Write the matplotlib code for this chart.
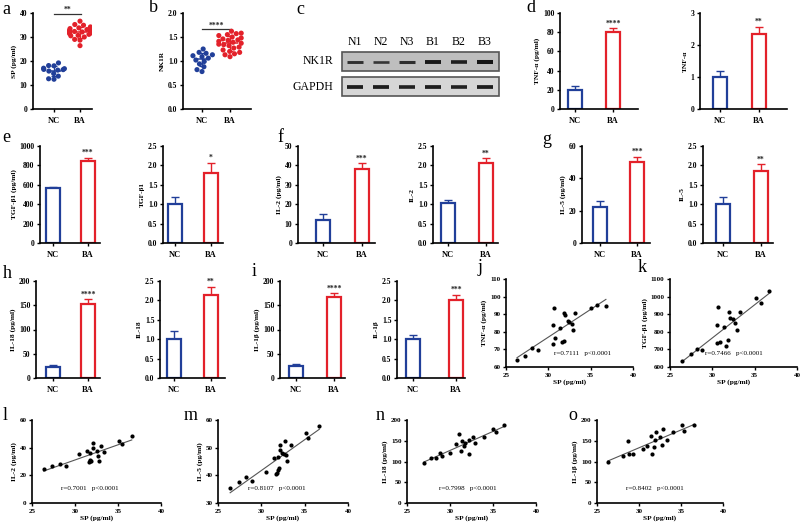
import numpy as np
import pandas as pd
import matplotlib
matplotlib.use("Agg")
import matplotlib.pyplot as plt
import seaborn as sns
from matplotlib.patches import Rectangle

plt.rcParams['font.family'] = ['Liberation Serif', 'DejaVu Serif']
plt.rcParams['font.weight'] = 'bold'
plt.rcParams['axes.labelweight'] = 'bold'

# ---------------- data ----------------
groups = ['NC', 'BA']
sp_nc = [19.2, 18.1, 18.0, 17.0, 16.8, 16.5, 16.4, 16.2, 15.8, 14.8, 13.7, 12.6, 12.4]
sp_ba = [36.6, 35.2, 34.9, 34.2, 33.8, 33.5, 33.1, 32.8, 32.6, 32.5, 32.3, 32.1, 31.9,
         31.8, 31.6, 31.4, 31.1, 30.7, 30.5, 30.0, 29.0, 28.7, 26.4]
nk_nc = [1.25, 1.18, 1.16, 1.13, 1.11, 1.09, 1.06, 1.02, 0.99, 0.94, 0.88, 0.82, 0.78]
nk_ba = [1.62, 1.58, 1.57, 1.55, 1.53, 1.50, 1.48, 1.46, 1.44, 1.43, 1.41, 1.39, 1.37,
         1.35, 1.34, 1.32, 1.29, 1.27, 1.23, 1.20, 1.18, 1.15, 1.13, 1.09]

blot_lanes = ['N1', 'N2', 'N3', 'B1', 'B2', 'B3']
nk1r_band = [0.55, 0.45, 0.6, 0.9, 0.8, 0.95]
gapdh_band = [0.85, 0.85, 0.8, 0.85, 0.8, 0.85]

tnf_abs, tnf_abs_err = [20, 80], [4, 4]
tnf_rel, tnf_rel_err = [1.0, 2.35], [0.2, 0.22]
tgf_abs, tgf_abs_err = [565, 850], [12, 30]
tgf_rel, tgf_rel_err = [1.0, 1.8], [0.18, 0.27]
il2_abs, il2_abs_err = [11.8, 38], [3.2, 3.2]
il2_rel, il2_rel_err = [1.02, 2.05], [0.1, 0.14]
il5_abs, il5_abs_err = [22, 50.3], [4, 3]
il5_rel, il5_rel_err = [1.0, 1.85], [0.18, 0.18]
il18_abs, il18_abs_err = [22, 152], [4, 10]
il18_rel, il18_rel_err = [1.0, 2.14], [0.2, 0.21]
il1b_abs, il1b_abs_err = [25, 168], [4, 7]
il1b_rel, il1b_rel_err = [1.0, 2.01], [0.11, 0.13]

j_sp = [26.3, 27.3, 28.1, 28.8, 30.5, 30.5, 30.7, 30.8, 31.4, 31.6, 31.85, 31.9, 32.0, 32.3,
        32.4, 32.8, 32.9, 33.2, 35.0, 35.8, 36.8]
j_tnf = [64.2, 66.3, 70.9, 69.9, 83.8, 72.8, 93.4, 76.2, 82.3, 74.3, 90.5, 74.9, 89.5, 86.1,
         85.7, 84.4, 80.8, 90.5, 93.7, 95.3, 94.7]
k_sp = [26.4, 27.45, 28.2, 28.8, 30.5, 30.6, 30.7, 30.9, 31.4, 31.6, 31.9, 32.0, 32.1, 32.4,
        32.7, 32.9, 33.3, 35.1, 35.7, 36.7]
k_tgf = [634, 674, 704, 694, 839, 736, 943, 740, 826, 719, 754, 913, 880, 870, 850, 810, 910,
         993, 963, 1033]
l_sp = [26.35, 27.3, 28.2, 28.9, 30.5, 31.45, 31.6, 31.7, 31.8, 31.9, 31.8, 32.15, 32.15, 32.5,
        32.7, 32.8, 33.0, 33.4, 35.1, 35.5, 36.6]
l_il2 = [24.4, 26.8, 28.2, 26.8, 35.2, 37.4, 29.5, 30.5, 31.0, 30.3, 35.9, 43.2, 39.6, 37.8,
         34.3, 30.5, 41.3, 36.8, 44.5, 42.8, 48.4]
m_sp = [26.4, 27.4, 28.2, 28.9, 30.5, 31.5, 31.7, 31.8, 31.9, 31.9, 32.0, 32.1, 32.2, 32.4,
        32.6, 32.7, 32.9, 33.0, 33.4, 35.2, 35.4, 36.7]
m_il5 = [35.3, 37.7, 39.3, 38.1, 41.1, 46.2, 40.4, 41.0, 46.7, 42.0, 42.5, 50.9, 49.2, 48.2,
         47.7, 52.5, 47.3, 45.3, 50.9, 55.4, 53.6, 57.8]
n_sp = [27.0, 27.8, 28.4, 28.85, 29.05, 30.0, 30.7, 31.1, 31.25, 31.4, 31.6, 31.8, 32.2, 32.2,
        32.65, 32.9, 33.9, 35.0, 35.3, 36.3]
n_il18 = [97, 108, 108, 121, 113, 121, 141, 167, 125, 149, 137, 144, 117, 153, 160, 145, 160,
          178, 170, 188]
o_sp = [26.3, 28.1, 28.7, 28.8, 29.3, 30.5, 30.9, 31.4, 31.6, 31.8, 31.9, 32.05, 32.45, 32.7,
        32.9, 33.3, 34.1, 35.1, 35.4, 36.6]
o_il1b = [99.5, 114, 150, 117, 117, 129, 138, 162, 118, 134, 152, 171, 160, 140, 179, 152, 170,
          188, 174, 187]

# ---------------- layout helpers ----------------
W, H = 800, 527
fig = plt.figure(figsize=(W / 100, H / 100), dpi=100)
C_NC = '#213f99'
C_BA = '#e3212a'
colors = [C_NC, C_BA]


def px_axes(l, t, r, b):
    return fig.add_axes([l / W, 1 - b / H, (r - l) / W, (b - t) / H])


def style(ax, ls=5.5):
    for s in ['top', 'right']:
        ax.spines[s].set_visible(False)
    for s in ['left', 'bottom']:
        ax.spines[s].set_linewidth(1.2)
    ax.tick_params(width=1.0, length=2.5, labelsize=ls, pad=1.5)
    for lab in ax.get_xticklabels() + ax.get_yticklabels():
        lab.set_fontweight('bold')


def letter(x, y, s):
    fig.text(x / W, 1 - y / H, s, ha='left', va='center', fontsize=13,
             fontweight='normal')


def set_yaxis(ax, ylim, step, fmt, ylabel):
    ax.set_ylim(*ylim)
    ticks = np.arange(ylim[0], ylim[1] + step / 2, step)
    ax.set_yticks(ticks)
    ax.set_yticklabels([fmt.format(t) for t in ticks])
    ax.set_ylabel(ylabel, fontsize=5.3, labelpad=2)


def bar_panel(px, nc_px, ba_px, vals, errs, ylim, step, fmt, ylabel, star):
    ax = px_axes(*px)
    l, t, r, b = px
    unit = ba_px - nc_px
    ax.set_xlim((l - nc_px) / unit, (r - nc_px) / unit)
    bw = 13.5 / unit
    for i in range(2):
        ax.errorbar(i, vals[i], yerr=[[0], [errs[i]]], color=colors[i], capsize=2.8,
                    elinewidth=1.0, capthick=1.0, zorder=1)
        ax.bar(i, vals[i], width=bw, facecolor='white', edgecolor=colors[i],
               linewidth=1.6, zorder=2)
    ax.annotate(star, (1, vals[1] + errs[1]), xytext=(0, 0.5), textcoords='offset points',
                ha='center', va='bottom', fontsize=5.5, color='#222')
    ax.set_xticks([0, 1])
    ax.set_xticklabels(groups, fontsize=6)
    set_yaxis(ax, ylim, step, fmt, ylabel)
    style(ax)
    ax.tick_params(axis='x', labelsize=6, pad=3)
    return ax


def swarm_panel(px, nc_px, ba_px, nc, ba, ylim, step, fmt, ylabel, star, sig_y):
    ax = px_axes(*px)
    l, t, r, b = px
    unit = ba_px - nc_px
    df = pd.DataFrame({'group': ['NC'] * len(nc) + ['BA'] * len(ba), 'value': nc + ba})
    sns.swarmplot(data=df, x='group', y='value', hue='group', order=groups,
                  palette={'NC': C_NC, 'BA': C_BA}, size=3.7, ax=ax, legend=False,
                  linewidth=0, warn_thresh=1)
    for i, vals in enumerate([nc, ba]):
        m, sd = np.mean(vals), np.std(vals, ddof=1)
        ax.hlines(m, i - 0.28, i + 0.28, color=colors[i], lw=1.1, zorder=4)
        ax.errorbar(i, m, yerr=sd, color=colors[i], capsize=2.5, elinewidth=0.9,
                    capthick=0.9, zorder=4)
    ax.plot([0, 1.05], [sig_y, sig_y], color='#333', lw=0.9, clip_on=False)
    ax.text(0.52, sig_y, star, ha='center', va='bottom', fontsize=5.5, color='#222')
    ax.set_xlim((l - nc_px) / unit, (r - nc_px) / unit)
    ax.set_xlabel('')
    ax.set_xticks([0, 1])
    ax.set_xticklabels(groups, fontsize=6)
    set_yaxis(ax, ylim, step, fmt, ylabel)
    style(ax)
    ax.tick_params(axis='x', labelsize=6, pad=3)
    return ax


def scatter_panel(px, xs, ys, ylim, step, ylabel, rtext, tx, ty):
    ax = px_axes(*px)
    xs = np.asarray(xs)
    ys = np.asarray(ys)
    ax.plot(xs, ys, 'o', color='black', ms=3.0, mew=0, zorder=3)
    k, c = np.polyfit(xs, ys, 1)
    xx = np.array([xs.min(), xs.max()])
    ax.plot(xx, k * xx + c, color='#555555', lw=0.8, zorder=2)
    ax.set_xlim(25, 40)
    ax.set_xticks([25, 30, 35, 40])
    ax.set_xlabel('SP (pg/ml)', fontsize=5.3, labelpad=1.5)
    set_yaxis(ax, ylim, step, '{:.0f}', ylabel)
    ax.text(tx, ty, rtext, transform=ax.transAxes, ha='center', va='center',
            fontsize=5, fontweight='normal')
    style(ax, ls=5)
    return ax


# ---------------- row 1 ----------------
swarm_panel((33, 13, 92, 109), 54, 80, sp_nc, sp_ba, (0, 40), 10, '{:.0f}',
            'SP (pg/ml)', '**', 39.6)
swarm_panel((183, 13, 251, 109), 202, 230, nk_nc, nk_ba, (0, 2.0), 0.5, '{:.1f}',
            'NK1R', '****', 1.66)

# western blot
axc = px_axes(341, 36, 500, 97)
axc.axis('off')
axc.set_xlim(-0.54, 5.58)
axc.set_ylim(1.42, -1.02)
for row, name, inten, bg in [(0, 'NK1R', nk1r_band, '#bebebe'),
                             (1, 'GAPDH', gapdh_band, '#d6d6d6')]:
    axc.add_patch(Rectangle((-0.52, row - 0.38), 6.08, 0.76, facecolor=bg,
                            edgecolor='#555555', lw=1.2, clip_on=False))
    for i, v in enumerate(inten):
        axc.plot([i - 0.32, i + 0.32], [row, row], color='#111111', lw=1.0 + 2.0 * v,
                 solid_capstyle='butt', alpha=0.6 + 0.4 * v, clip_on=False)
    axc.text(-0.85, row, name, ha='right', va='center', fontsize=8.5,
             fontweight='normal', clip_on=False)
for i, lab in enumerate(blot_lanes):
    axc.text(i, -0.78, lab, ha='center', va='center', fontsize=8.5, fontweight='normal')

bar_panel((560, 13, 638, 109), 575, 613, tnf_abs, tnf_abs_err, (0, 100), 20, '{:.0f}',
          'TNF-α (pg/ml)', '****')
bar_panel((700, 13, 787, 109), 720, 759, tnf_rel, tnf_rel_err, (0, 3), 1, '{:.0f}',
          'TNF-α', '**')

# ---------------- row 2 ----------------
bar_panel((40, 146, 100, 243), 53, 88, tgf_abs, tgf_abs_err, (0, 1000), 200, '{:.0f}',
          'TGF-β1 (pg/ml)', '***')
bar_panel((163, 146, 223, 243), 175, 211, tgf_rel, tgf_rel_err, (0, 2.5), 0.5, '{:.1f}',
          'TGF-β1', '*')
bar_panel((298, 146, 375, 243), 323, 362, il2_abs, il2_abs_err, (0, 50), 10, '{:.0f}',
          'IL-2 (pg/ml)', '***')
bar_panel((433, 146, 498, 243), 448, 486, il2_rel, il2_rel_err, (0, 2.5), 0.5, '{:.1f}',
          'IL-2', '**')
bar_panel((582, 146, 650, 243), 600, 637, il5_abs, il5_abs_err, (0, 60), 20, '{:.0f}',
          'IL-5 (pg/ml)', '***')
bar_panel((703, 146, 773, 243), 723, 761, il5_rel, il5_rel_err, (0, 2.5), 0.5, '{:.1f}',
          'IL-5', '**')

# ---------------- row 3 ----------------
bar_panel((36, 281, 100, 378), 53, 88, il18_abs, il18_abs_err, (0, 200), 50, '{:.0f}',
          'IL-18 (pg/ml)', '****')
bar_panel((160, 281, 225, 378), 174, 211, il18_rel, il18_rel_err, (0, 2.5), 0.5, '{:.1f}',
          'IL-18', '**')
bar_panel((280, 281, 345, 378), 296, 334, il1b_abs, il1b_abs_err, (0, 200), 50, '{:.0f}',
          'IL-1β (pg/ml)', '****')
bar_panel((397, 281, 465, 378), 413, 456, il1b_rel, il1b_rel_err, (0, 2.5), 0.5, '{:.1f}',
          'IL-1β', '***')
scatter_panel((506, 279, 633, 367), j_sp, j_tnf, (60, 110), 10, 'TNF-α (pg/ml)',
              'r=0.7111   p<0.0001', 0.6, 0.15)
scatter_panel((670, 279, 797, 367), k_sp, k_tgf, (600, 1100), 100, 'TGF-β1 (pg/ml)',
              'r=0.7466   p<0.0001', 0.5, 0.15)

# ---------------- row 4 ----------------
scatter_panel((32, 420, 161, 503), l_sp, l_il2, (0, 60), 20, 'IL-2 (pg/ml)',
              'r=0.7001   p<0.0001', 0.45, 0.17)
scatter_panel((218, 420, 348, 503), m_sp, m_il5, (30, 60), 10, 'IL-5 (pg/ml)',
              'r=0.8107   p<0.0001', 0.45, 0.17)
scatter_panel((407, 420, 536, 503), n_sp, n_il18, (0, 200), 50, 'IL-18 (pg/ml)',
              'r=0.7998   p<0.0001', 0.47, 0.17)
scatter_panel((597, 420, 723, 503), o_sp, o_il1b, (0, 200), 50, 'IL-1β (pg/ml)',
              'r=0.8402   p<0.0001', 0.46, 0.17)

# panel letters
for (x, y, s) in [(2, 9, 'a'), (149, 8, 'b'), (296, 9, 'c'), (526, 8, 'd'),
                  (2, 137, 'e'), (277, 137, 'f'), (542, 140, 'g'),
                  (3, 273, 'h'), (252, 272, 'i'), (478, 268, 'j'), (638, 267, 'k'),
                  (3, 415, 'l'), (184, 415, 'm'), (376, 415, 'n'), (568, 415, 'o')]:
    letter(x, y, s)

fig.savefig('out.png', dpi=100, facecolor='white')
